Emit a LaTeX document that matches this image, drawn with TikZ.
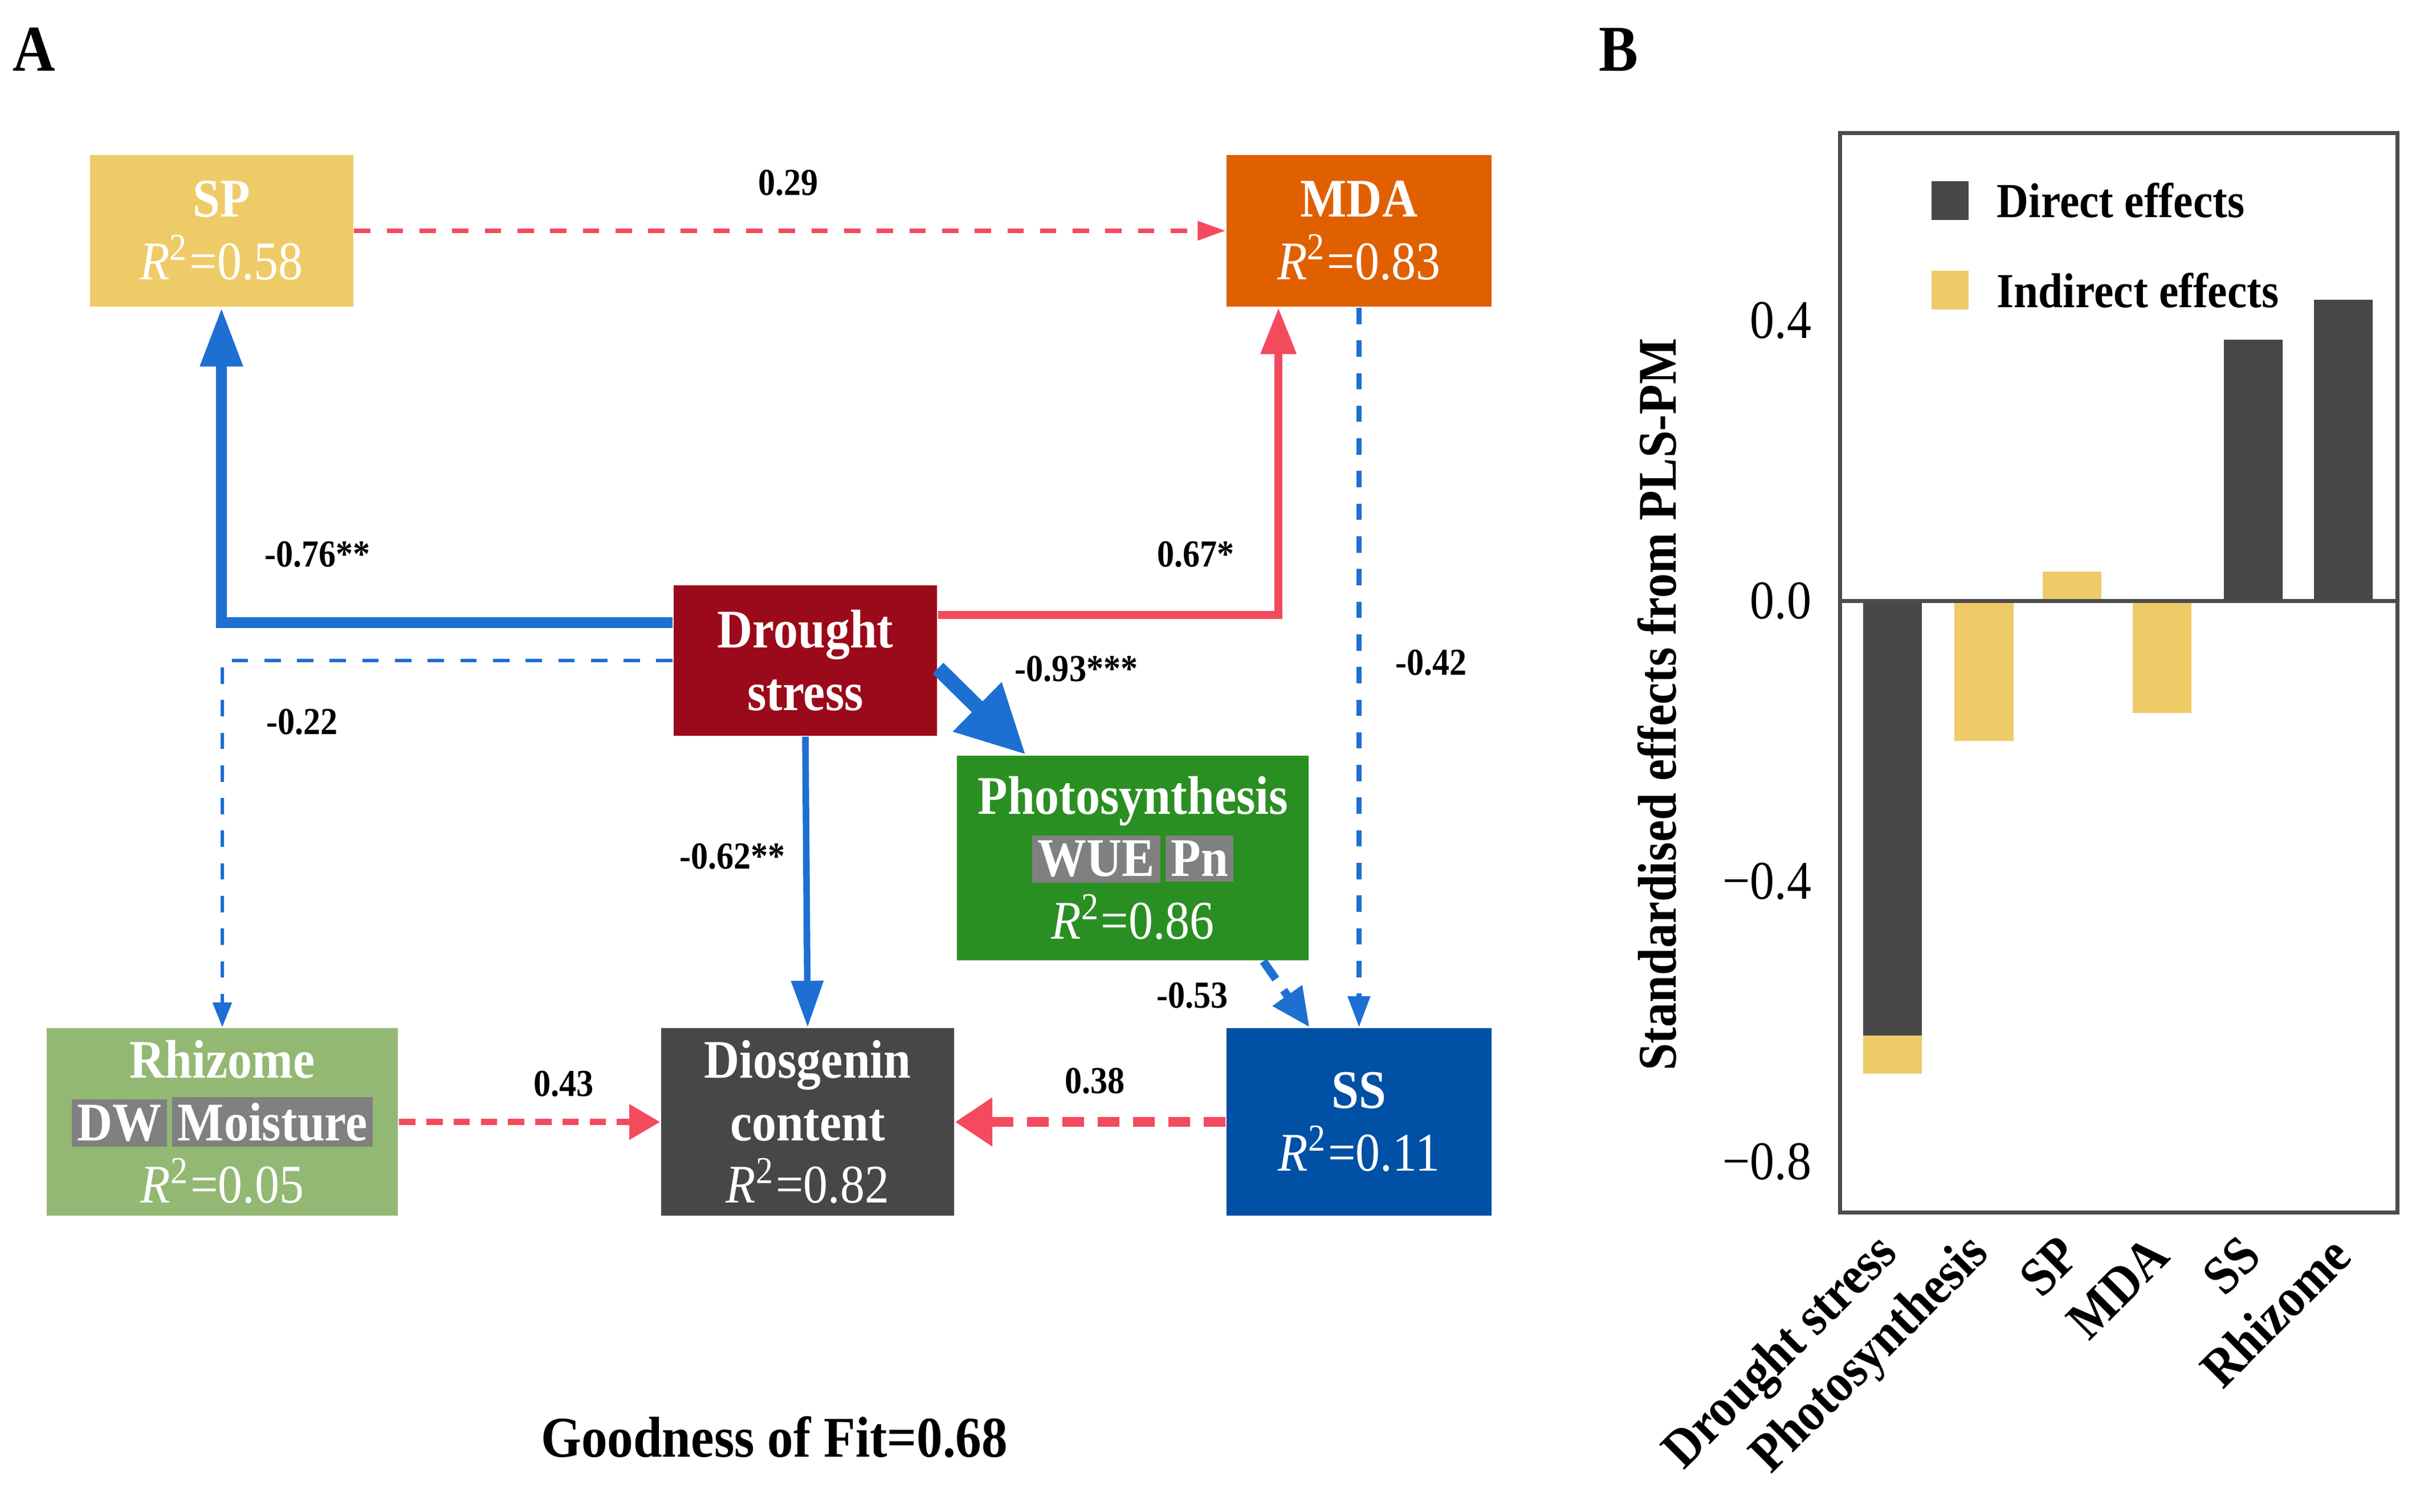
\documentclass[tikz,border=0pt]{standalone}
\usepackage{fontspec}
\setmainfont{Liberation Serif}[FakeStretch=0.9]
\usetikzlibrary{arrows.meta}

\definecolor{spgold}{RGB}{239,203,104}
\definecolor{mdaorange}{RGB}{224,96,0}
\definecolor{dsred}{RGB}{155,10,26}
\definecolor{phgreen}{RGB}{42,143,34}
\definecolor{rhgreen}{RGB}{147,184,116}
\definecolor{diogray}{RGB}{71,71,71}
\definecolor{ssblue}{RGB}{0,80,165}
\definecolor{arrblue}{RGB}{30,111,210}
\definecolor{arrred}{RGB}{244,74,94}
\definecolor{hlgray}{RGB}{128,128,128}

\newcommand{\rsq}[1]{{\mdseries\textit{R}\textsuperscript{2}=#1}}
\newcommand{\hlbox}[1]{{\setlength{\fboxsep}{1pt}\colorbox{hlgray}{#1}}}

\tikzset{
  var/.style={fill=#1, text=white, align=center, inner sep=0pt,
    font=\bfseries\fontsize{10}{11.5}\selectfont},
  coef/.style={font=\bfseries\fontsize{7}{8}\selectfont},
  pospath/.style={draw=arrred},
  negpath/.style={draw=arrblue}
}

\begin{document}
\begin{tikzpicture}
    \useasboundingbox (0,0) rectangle (15.60,9.76);

    % panel A
    \node[font=\bfseries\fontsize{12}{14}\selectfont] (labA) at (0.22,9.44) {A};

    \node[var=spgold, minimum width=1.70cm, minimum height=0.98cm] (sp) at (1.43,8.27) {SP\\\rsq{0.58}};
    \node[var=mdaorange, minimum width=1.71cm, minimum height=0.98cm] (mda) at (8.775,8.27) {MDA\\\rsq{0.83}};
    \node[var=dsred, minimum width=1.70cm, minimum height=0.97cm] (ds) at (5.20,5.495) {Drought\\stress};
    \node[var=phgreen, minimum width=2.27cm, minimum height=1.32cm] (ph) at (7.315,4.22) {Photosynthesis\\\hlbox{WUE}\hspace{1pt}\hlbox{Pn}\\\rsq{0.86}};
    \node[var=rhgreen, minimum width=2.27cm, minimum height=1.21cm] (rh) at (1.435,2.515) {Rhizome\\\hlbox{DW}\hspace{1pt}\hlbox{Moisture}\\\rsq{0.05}};
    \node[var=diogray, minimum width=1.89cm, minimum height=1.21cm] (dio) at (5.215,2.515) {Diosgenin\\content\\\rsq{0.82}};
    \node[var=ssblue, minimum width=1.71cm, minimum height=1.21cm] (ss) at (8.775,2.515) {SS\\\rsq{0.11}};

    % paths
    \draw[negpath, line width=2pt, -{Triangle[length=0.38cm,width=0.26cm]}] ([yshift=0.245cm]ds.west) -| (sp.south);
    \draw[pospath, line width=1.5pt, -{Triangle[length=0.30cm,width=0.22cm]}] ([yshift=0.295cm]ds.east) -| ([xshift=-0.52cm]mda.south);
    \draw[negpath, dashed, line width=0.7pt, -{Triangle[length=0.16cm,width=0.12cm]}] (ds.west) -| (rh.north);
    \draw[negpath, line width=2.8pt, -{Triangle[length=0.44cm,width=0.42cm]}] ([yshift=-0.05cm]ds.east) -- ([xshift=0.45cm]ph.north west);
    \draw[negpath, line width=1.2pt, -{Triangle[length=0.30cm,width=0.20cm]}] (ds.south) -- (dio.north);
    \draw[pospath, dashed, line width=0.8pt, -{Triangle[length=0.18cm,width=0.12cm]}] (sp.east) -- (mda.west);
    \draw[negpath, dashed, line width=0.9pt, -{Triangle[length=0.20cm,width=0.14cm]}] (mda.south) -- (ss.north);
    \draw[negpath, dash pattern=on 4pt off 2.5pt, line width=1.5pt, -{Triangle[length=0.25cm,width=0.22cm]}] ([xshift=-0.3cm]ph.south east) -- ([xshift=-0.32cm]ss.north);
    \draw[pospath, dash pattern=on 3pt off 2pt, line width=1.2pt, -{Triangle[length=0.20cm,width=0.22cm]}] (rh.east) -- (dio.west);
    \draw[pospath, dash pattern=on 4pt off 2.5pt, line width=1.8pt, -{Triangle[length=0.24cm,width=0.30cm]}] (ss.west) -- (dio.east);

    \node[coef] (c29) at (5.09,8.58) {0.29};
    \node[coef] (c76) at (2.05,6.18) {-0.76**};
    \node[coef] (c67) at (7.72,6.18) {0.67*};
    \node[coef] (c22) at (1.95,5.10) {-0.22};
    \node[coef] (c93) at (6.95,5.44) {-0.93***};
    \node[coef] (c42) at (9.24,5.48) {-0.42};
    \node[coef] (c62) at (4.73,4.23) {-0.62**};
    \node[coef] (c53) at (7.70,3.33) {-0.53};
    \node[coef] (c43) at (3.64,2.76) {0.43};
    \node[coef] (c38) at (7.07,2.78) {0.38};

    \node[font=\bfseries\fontsize{10.6}{12}\selectfont] (gof) at (5.00,0.48) {Goodness of Fit=0.68};

    % panel B
    \node[font=\bfseries\fontsize{12}{14}\selectfont] (labB) at (10.45,9.44) {B};

    \begin{scope}[shift={(0,5.88)}, y=4.525cm]
        \fill[diogray] (12.03,0) rectangle (12.41,-0.62);
        \fill[spgold] (12.03,-0.62) rectangle (12.41,-0.675);
        \fill[spgold] (12.62,0) rectangle (13.00,-0.20);
        \fill[spgold] (13.19,0) rectangle (13.57,0.042);
        \fill[spgold] (13.77,0) rectangle (14.15,-0.16);
        \fill[diogray] (14.36,0) rectangle (14.74,0.373);
        \fill[diogray] (14.94,0) rectangle (15.32,0.43);
        \draw[black!70, line width=0.7pt] (11.88,0) -- (15.48,0);
        \foreach \v/\t in {0.4/0.4, 0/0.0, -0.4/−0.4, -0.8/−0.8}
            \node[anchor=east, font=\fontsize{10}{12}\selectfont] (tk\t) at (11.82,\v) {\t};
    \end{scope}
    \draw[black!70, line width=0.7pt] (11.88,1.93) rectangle (15.48,8.90);

    \node[rotate=90, font=\bfseries\fontsize{10}{12}\selectfont] (ylab) at (10.70,5.21) {Standardised effects from PLS-PM};

    \fill[diogray] (12.47,8.34) rectangle (12.71,8.59);
    \node[anchor=west, font=\bfseries\fontsize{9}{11}\selectfont] (legdir) at (12.77,8.465) {Direct effects};
    \fill[spgold] (12.47,7.76) rectangle (12.71,8.01);
    \node[anchor=west, font=\bfseries\fontsize{9}{11}\selectfont] (legind) at (12.77,7.885) {Indirect effects};

    \foreach \xc/\name [count=\i] in {12.22/Drought stress, 12.81/Photosynthesis, 13.38/SP, 13.96/MDA, 14.55/SS, 15.13/Rhizome}
        \node[rotate=45, anchor=east, font=\bfseries\fontsize{10}{12}\selectfont] (xl\i) at (\xc+0.07,1.80) {\name};
\end{tikzpicture}
\end{document}
